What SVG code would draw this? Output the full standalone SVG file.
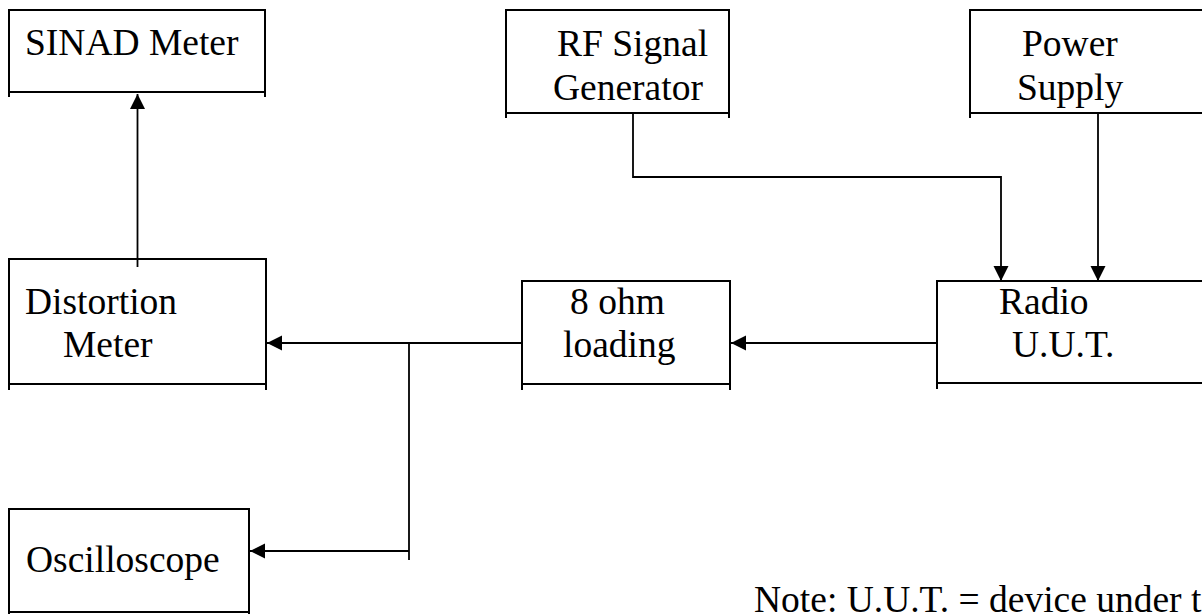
<svg xmlns="http://www.w3.org/2000/svg" width="1202" height="614" viewBox="0 0 1202 614">
<style>
.box{fill:none;stroke:#000;stroke-width:2}
.wire{fill:none;stroke:#000;stroke-width:1.8}
text{font-family:"Liberation Serif","Times New Roman",serif;font-size:37.5px;fill:#000}
</style>
<defs>
<marker id="ah" markerUnits="userSpaceOnUse" markerWidth="17" markerHeight="17" refX="15" refY="7.5" orient="auto" viewBox="0 0 17 17">
<path d="M0,0 L15,7.5 L0,15 z" fill="#000"/>
</marker>
</defs>
<rect width="1202" height="614" fill="#fff"/>
<g id="sinad">
<path class="box" d="M9,97 V10 H265 V97 M9,92 H265"/>
<text x="25" y="55">SINAD Meter</text>
</g>
<g id="rfgen">
<path class="box" d="M506,118 V10 H729 V118 M506,113 H729"/>
<text x="557" y="56">RF Signal</text>
<text x="553" y="100">Generator</text>
</g>
<g id="power">
<path class="box" d="M970,118 V10 H1210 M970,113 H1210"/>
<text x="1022" y="56">Power</text>
<text x="1017" y="100">Supply</text>
</g>
<g id="distortion">
<path class="box" d="M9,390 V259 H266 V390 M9,384 H266"/>
<text x="25" y="314">Distortion</text>
<text x="63" y="357">Meter</text>
</g>
<g id="load">
<path class="box" d="M522,390 V281 H730 V390 M522,384 H730"/>
<text x="570" y="314">8 ohm</text>
<text x="563" y="357">loading</text>
</g>
<g id="radio">
<path class="box" d="M937,389 V281 H1210 M937,383 H1210"/>
<text x="999" y="314">Radio</text>
<text x="1012" y="357">U.U.T.</text>
</g>
<g id="scope">
<path class="box" d="M9,618 V509 H249 V618 M9,612 H249"/>
<text x="26" y="572">Oscilloscope</text>
</g>
<g id="note">
<text x="754" y="612">Note: U.U.T. = device under test</text>
</g>
<g id="connectors">
<path class="wire" d="M137.5,267 V94" marker-end="url(#ah)"/>
<path class="wire" d="M633,113 V177 H1001 V281" marker-end="url(#ah)"/>
<path class="wire" d="M1098,113 V281" marker-end="url(#ah)"/>
<path class="wire" d="M937,343 H731" marker-end="url(#ah)"/>
<path class="wire" d="M522,343 H267" marker-end="url(#ah)"/>
<path class="wire" d="M409,343 V560"/>
<path class="wire" d="M409,551 H250" marker-end="url(#ah)"/>
</g>
</svg>
